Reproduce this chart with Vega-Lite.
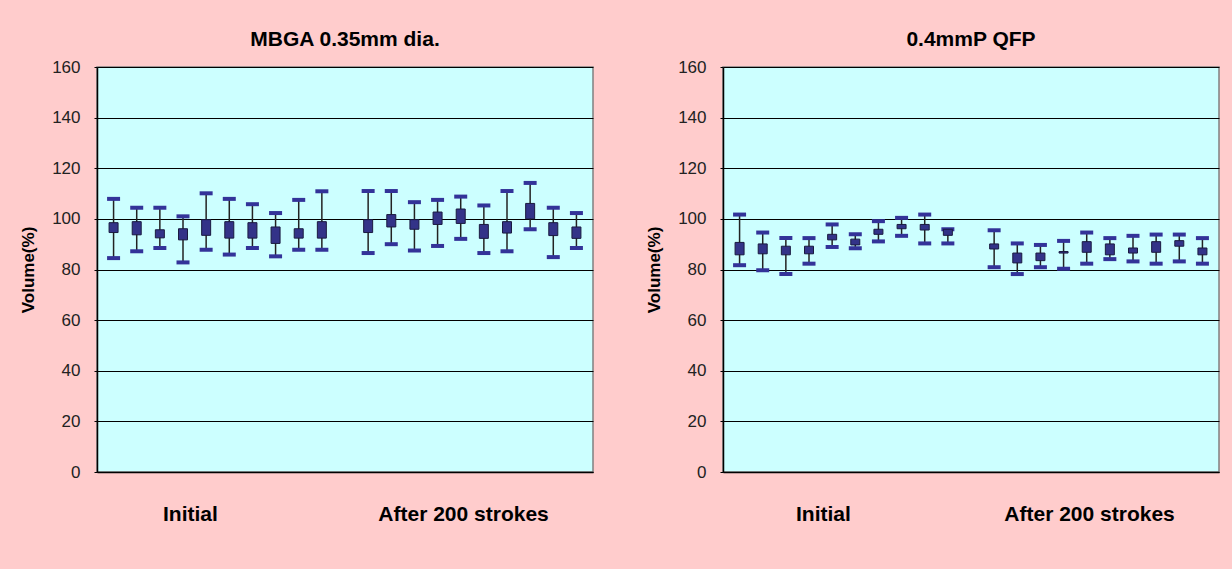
{
  "$schema": "https://vega.github.io/schema/vega-lite/v6.json",
  "background": "#FFCCCC",
  "padding": {"left": 18, "top": 28, "right": 14, "bottom": 46},
  "config": {
    "font": "Liberation Sans",
    "view": {"fill": "#CCFFFF", "stroke": "#808080", "strokeWidth": 1.5},
    "title": {"font": "Liberation Sans", "fontSize": 21, "fontWeight": "bold", "color": "#000000", "offset": 8}
  },
  "spacing": 50,
  "datasets": {
    "mbga": [
      {"slot": 0, "hi": 107.9, "bhi": 98.5, "blo": 94.6, "lo": 84.5},
      {"slot": 1, "hi": 104.4, "bhi": 98.9, "blo": 93.7, "lo": 87.2},
      {"slot": 2, "hi": 104.4, "bhi": 95.7, "blo": 92.5, "lo": 88.5},
      {"slot": 3, "hi": 101.0, "bhi": 96.1, "blo": 91.7, "lo": 82.8},
      {"slot": 4, "hi": 110.1, "bhi": 99.7, "blo": 93.5, "lo": 87.8},
      {"slot": 5, "hi": 107.9, "bhi": 98.9, "blo": 92.4, "lo": 85.9},
      {"slot": 6, "hi": 105.8, "bhi": 98.5, "blo": 92.4, "lo": 88.5},
      {"slot": 7, "hi": 102.3, "bhi": 96.8, "blo": 90.3, "lo": 85.2},
      {"slot": 8, "hi": 107.5, "bhi": 96.1, "blo": 92.4, "lo": 87.8},
      {"slot": 9, "hi": 110.9, "bhi": 98.9, "blo": 92.4, "lo": 87.8},
      {"slot": 11, "hi": 111.0, "bhi": 99.7, "blo": 94.6, "lo": 86.5},
      {"slot": 12, "hi": 111.0, "bhi": 101.7, "blo": 96.8, "lo": 90.0},
      {"slot": 13, "hi": 106.6, "bhi": 99.7, "blo": 95.9, "lo": 87.5},
      {"slot": 14, "hi": 107.5, "bhi": 102.7, "blo": 97.8, "lo": 89.3},
      {"slot": 15, "hi": 108.8, "bhi": 103.9, "blo": 98.2, "lo": 92.1},
      {"slot": 16, "hi": 105.3, "bhi": 97.8, "blo": 92.3, "lo": 86.5},
      {"slot": 17, "hi": 111.0, "bhi": 98.9, "blo": 94.4, "lo": 87.2},
      {"slot": 18, "hi": 114.2, "bhi": 106.1, "blo": 100.0, "lo": 95.9},
      {"slot": 19, "hi": 104.4, "bhi": 98.5, "blo": 93.4, "lo": 84.9},
      {"slot": 20, "hi": 102.3, "bhi": 96.8, "blo": 92.3, "lo": 88.5}
    ],
    "qfp": [
      {"slot": 0, "hi": 101.7, "bhi": 90.7, "blo": 85.8, "lo": 81.7},
      {"slot": 1, "hi": 94.6, "bhi": 90.1, "blo": 86.2, "lo": 79.7},
      {"slot": 2, "hi": 92.4, "bhi": 89.2, "blo": 85.8, "lo": 78.2},
      {"slot": 3, "hi": 92.4, "bhi": 89.2, "blo": 86.2, "lo": 82.3},
      {"slot": 4, "hi": 97.8, "bhi": 93.9, "blo": 91.7, "lo": 88.9},
      {"slot": 5, "hi": 93.9, "bhi": 92.0, "blo": 89.7, "lo": 88.4},
      {"slot": 6, "hi": 99.1, "bhi": 95.9, "blo": 93.9, "lo": 91.1},
      {"slot": 7, "hi": 100.4, "bhi": 97.8, "blo": 96.1, "lo": 93.3},
      {"slot": 8, "hi": 101.7, "bhi": 97.8, "blo": 95.6, "lo": 90.3},
      {"slot": 9, "hi": 95.9, "bhi": 95.9, "blo": 93.5, "lo": 90.3},
      {"slot": 11, "hi": 95.5, "bhi": 90.1, "blo": 88.1, "lo": 80.9},
      {"slot": 12, "hi": 90.3, "bhi": 86.5, "blo": 82.6, "lo": 78.2},
      {"slot": 13, "hi": 89.7, "bhi": 86.5, "blo": 83.5, "lo": 80.9},
      {"slot": 14, "hi": 91.3, "bhi": 87.1, "blo": 86.5, "lo": 80.3},
      {"slot": 15, "hi": 94.6, "bhi": 91.0, "blo": 86.8, "lo": 82.3},
      {"slot": 16, "hi": 92.4, "bhi": 90.1, "blo": 85.8, "lo": 84.1},
      {"slot": 17, "hi": 93.3, "bhi": 88.5, "blo": 86.5, "lo": 83.2},
      {"slot": 18, "hi": 93.8, "bhi": 91.0, "blo": 86.8, "lo": 82.3},
      {"slot": 19, "hi": 93.8, "bhi": 91.4, "blo": 89.2, "lo": 83.2},
      {"slot": 20, "hi": 92.4, "bhi": 88.5, "blo": 85.8, "lo": 82.3}
    ]
  },
  "hconcat": [
    {
      "title": "MBGA 0.35mm dia.",
      "width": 496,
      "height": 405,
      "data": {"name": "mbga"},
      "encoding": {
        "x": {
          "field": "slot", "type": "quantitative",
          "scale": {"domain": [-0.5, 20.5], "nice": false, "zero": false},
          "axis": {
            "title": null, "values": [3.3, 15.1], "ticks": false, "grid": false,
            "labelExpr": "datum.value < 10 ? 'Initial' : 'After 200 strokes'",
            "labelFontSize": 21, "labelFontWeight": "bold", "labelColor": "#000000",
            "labelPadding": 31, "domainColor": "#000000", "domainWidth": 1.5, "labelFlush": false
          }
        }
      },
      "layer": [
        {
          "mark": {"type": "rule", "color": "#222222", "strokeWidth": 1.5},
          "encoding": {
            "y": {
              "field": "lo", "type": "quantitative",
              "scale": {"domain": [0, 160], "nice": false},
              "axis": {
                "title": "Volume(%)", "values": [0, 20, 40, 60, 80, 100, 120, 140, 160],
                "grid": true, "gridColor": "#000000", "gridWidth": 1, "gridOpacity": 1,
                "domainColor": "#000000", "domainWidth": 1.5, "tickColor": "#000000", "tickSize": 3,
                "labelFontSize": 17, "labelColor": "#222222", "labelPadding": 14,
                "titleFontSize": 17, "titleFontWeight": "bold", "titleColor": "#000000", "titlePadding": 14
              }
            },
            "y2": {"field": "hi"}
          }
        },
        {
          "mark": {"type": "tick", "orient": "horizontal", "color": "#333399", "thickness": 4, "size": 13, "opacity": 1},
          "encoding": {"y": {"field": "lo", "type": "quantitative"}}
        },
        {
          "mark": {"type": "tick", "orient": "horizontal", "color": "#333399", "thickness": 4, "size": 13, "opacity": 1},
          "encoding": {"y": {"field": "hi", "type": "quantitative"}}
        },
        {
          "mark": {"type": "bar", "width": 9, "color": "#333388", "stroke": "#1a1a40", "strokeWidth": 1},
          "encoding": {"y": {"field": "blo", "type": "quantitative"}, "y2": {"field": "bhi"}}
        }
      ]
    },
    {
      "title": "0.4mmP QFP",
      "width": 496,
      "height": 405,
      "data": {"name": "qfp"},
      "encoding": {
        "x": {
          "field": "slot", "type": "quantitative",
          "scale": {"domain": [-0.5, 20.5], "nice": false, "zero": false},
          "axis": {
            "title": null, "values": [3.6, 15.1], "ticks": false, "grid": false,
            "labelExpr": "datum.value < 10 ? 'Initial' : 'After 200 strokes'",
            "labelFontSize": 21, "labelFontWeight": "bold", "labelColor": "#000000",
            "labelPadding": 31, "domainColor": "#000000", "domainWidth": 1.5, "labelFlush": false
          }
        }
      },
      "layer": [
        {
          "mark": {"type": "rule", "color": "#222222", "strokeWidth": 1.5},
          "encoding": {
            "y": {
              "field": "lo", "type": "quantitative",
              "scale": {"domain": [0, 160], "nice": false},
              "axis": {
                "title": "Volume(%)", "values": [0, 20, 40, 60, 80, 100, 120, 140, 160],
                "grid": true, "gridColor": "#000000", "gridWidth": 1, "gridOpacity": 1,
                "domainColor": "#000000", "domainWidth": 1.5, "tickColor": "#000000", "tickSize": 3,
                "labelFontSize": 17, "labelColor": "#222222", "labelPadding": 14,
                "titleFontSize": 17, "titleFontWeight": "bold", "titleColor": "#000000", "titlePadding": 14
              }
            },
            "y2": {"field": "hi"}
          }
        },
        {
          "mark": {"type": "tick", "orient": "horizontal", "color": "#333399", "thickness": 4, "size": 13, "opacity": 1},
          "encoding": {"y": {"field": "lo", "type": "quantitative"}}
        },
        {
          "mark": {"type": "tick", "orient": "horizontal", "color": "#333399", "thickness": 4, "size": 13, "opacity": 1},
          "encoding": {"y": {"field": "hi", "type": "quantitative"}}
        },
        {
          "mark": {"type": "bar", "width": 9, "color": "#333388", "stroke": "#1a1a40", "strokeWidth": 1},
          "encoding": {"y": {"field": "blo", "type": "quantitative"}, "y2": {"field": "bhi"}}
        }
      ]
    }
  ]
}
